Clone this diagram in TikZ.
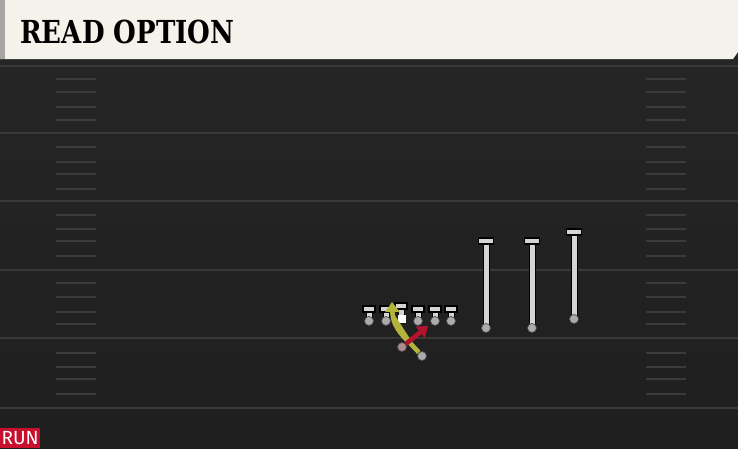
\documentclass[tikz,border=0pt]{standalone}
\usepackage{fontspec}
\usepackage{graphicx}
\usetikzlibrary{calc,arrows.meta}
\newfontfamily\titlefont{DejaVu Serif}
\newfontfamily\tagfont{Fira Sans}
\definecolor{cream}{HTML}{F5F2EB}
\definecolor{turftop}{HTML}{262626}
\definecolor{turfbot}{HTML}{1F1F1F}
\definecolor{yardline}{HTML}{393939}
\definecolor{hashline}{HTML}{3B3B3B}
\definecolor{routegray}{HTML}{D4D4D4}
\definecolor{dotgray}{HTML}{ABABAB}
\definecolor{runred}{HTML}{C8102E}
\definecolor{optyellow}{HTML}{B4B43C}
\definecolor{optred}{HTML}{B3132F}
\tikzset{
    stem/.style={draw=routegray, line width=5pt, preaction={draw=black, line width=7pt}},
    tbar/.style={draw=black, line width=1.1pt, fill=routegray, minimum width=12pt,
        minimum height=6pt, inner sep=0pt},
    pdot/.style={circle, draw=black!70, line width=0.7pt, fill=dotgray, minimum size=9pt,
        inner sep=0pt},
    route/.style={line width=4.6pt, -{Triangle[length=10pt,width=14pt]}}
}
\begin{document}
\begin{tikzpicture}[x=1pt,y=-1pt]
        \useasboundingbox (0,0) rectangle (738,448);
        \shade[top color=turftop, bottom color=turfbot] (0,0) rectangle (738,448);
        \fill[black!85] (0,57) rectangle (738,63);
        \fill[cream] (0,0) -- (738,0) -- (738,52) -- (733,59) -- (0,59) -- cycle;
        \fill[black!35] (0,0) rectangle (5,59);
        \node[anchor=north west, inner sep=0pt] (title) at (20,20)
            {\resizebox{214pt}{23.5pt}{\titlefont\bfseries READ OPTION}};
        \foreach \y in {66,133,201,270,338,408}
        \draw[yardline, line width=1.6pt] (0,\y) -- (738,\y);
        \foreach \y in {79,92,107,120,147,162,174,189,215,229,241,256,283,297,312,324,353,367,379,394}
        {
        \draw[hashline, line width=1.3pt] (56,\y) -- (96,\y);
        \draw[hashline, line width=1.3pt] (646,\y) -- (686,\y);
        }
        % receivers
        \foreach \x/\top/\bot [count=\i] in {486/241/328, 532/241/328, 574/232/319}
        {
        \coordinate (wrtop\i) at (\x,\top);
        \coordinate (wrbot\i) at (\x,\bot);
        \draw[stem] (wrbot\i) -- (wrtop\i);
        \node[tbar, minimum width=15pt] (wrbar\i) at (wrtop\i) {};
        \node[pdot] (wr\i) at (wrbot\i) {};
        }
        % line
        \foreach \x [count=\i] in {369,386,418,435,451}
        {
        \coordinate (oltop\i) at (\x,309);
        \coordinate (olbot\i) at (\x,321);
        \draw[stem] (olbot\i) -- (oltop\i);
        \node[tbar] (olbar\i) at (oltop\i) {};
        \node[pdot] (ol\i) at (olbot\i) {};
        }
        \coordinate (ctop) at (401,306);
        \coordinate (cbot) at (401,316);
        \draw[stem] (cbot) -- (ctop);
        \node[tbar] (cbar) at (ctop) {};
        \node[fill=white, minimum size=8pt, inner sep=0pt] (qb) at (402,318.5) {};
        % option routes
        \node[pdot] (back) at (422,356) {};
        \coordinate (keep) at (392,302);
        \draw[route, draw=optyellow, fill=optyellow] (back) .. controls (406,338) and (393,330) .. (keep);
        \node[pdot, fill=dotgray!80!optred] (give) at (402,347) {};
        \coordinate (pitch) at (428,326);
        \draw[route, draw=optred, fill=optred] (give) -- (pitch);
        \node[anchor=south west, fill=runred, text=white, minimum width=40pt, minimum height=20pt,
            inner sep=0pt, font=\tagfont\fontsize{19}{19}\selectfont] (tag) at (0,448) {RUN};
    \end{tikzpicture}
\end{document}
